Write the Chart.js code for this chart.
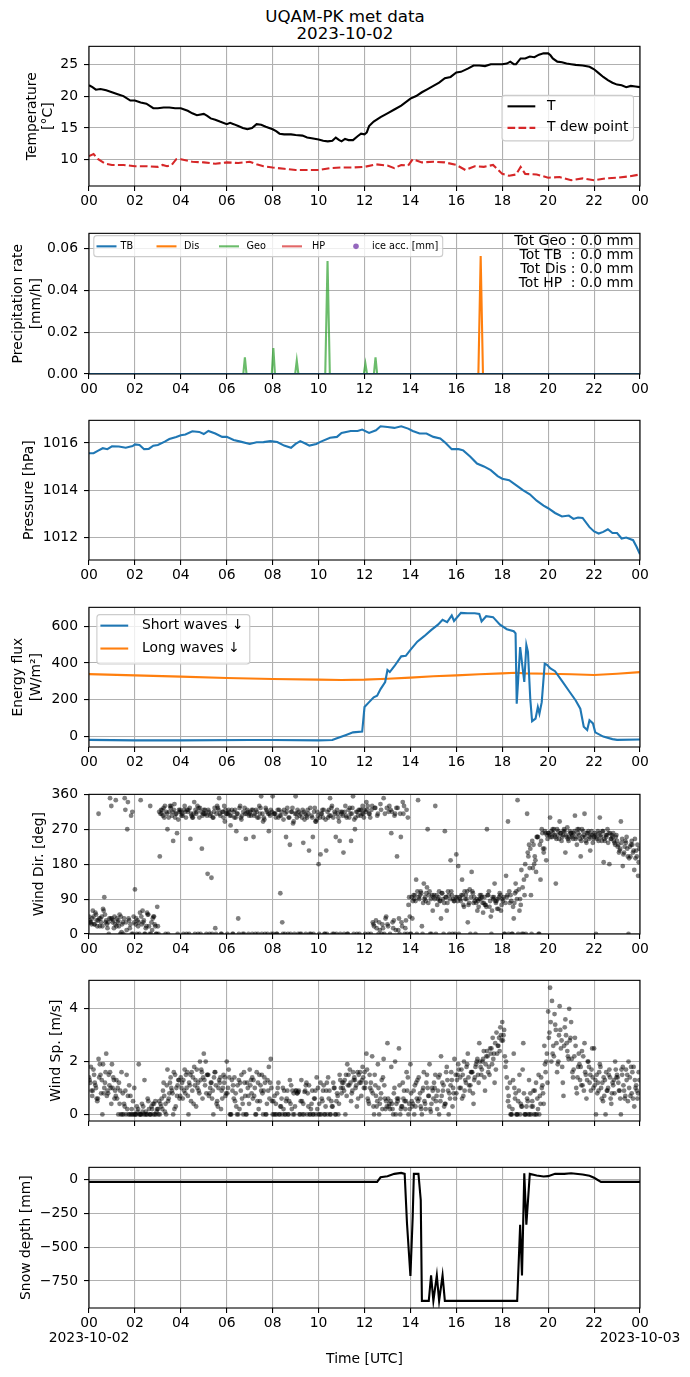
<!DOCTYPE html>
<html><head><meta charset="utf-8">
<script src="https://cdn.jsdelivr.net/npm/chart.js@4.4.1/dist/chart.umd.min.js"></script>
<style>
html,body{margin:0;padding:0;background:#fff;width:690px;height:1377px;overflow:hidden;}
#wrap{position:relative;width:690px;height:1377px;}
canvas{position:absolute;left:0;}
.title{position:absolute;left:0;width:690px;text-align:center;font-family:'DejaVu Sans',sans-serif;font-size:16.7px;line-height:16.6px;color:#000;}
</style></head><body>
<div id="wrap">
<div class="title" style="top:8.4px">UQAM-PK met data<br>2023-10-02</div>
</div>
<script>
// ---------------- DATA ----------------
const hourTicks = [0,2,4,6,8,10,12,14,16,18,20,22,24];
const hourLabels = ['00','02','04','06','08','10','12','14','16','18','20','22','00'];
const dateLabels = ['2023-10-02','2023-10-03'];

const temperature = [[0,21.7],[0.15,21.4],[0.3,21.0],[0.5,21.1],[0.75,20.9],[1,20.6],[1.25,20.3],[1.5,20.0],[1.8,19.3],[2,19.3],[2.25,19.0],[2.5,18.8],[2.8,18.1],[3,18.1],[3.25,18.2],[3.5,18.2],[3.75,18.1],[4,18.1],[4.3,17.7],[4.5,17.3],[4.7,17.0],[5,17.2],[5.15,16.9],[5.3,16.5],[5.5,16.3],[5.7,16.0],[6,15.6],[6.15,15.8],[6.3,15.6],[6.5,15.3],[6.7,15.0],[6.9,14.8],[7.1,15.0],[7.3,15.6],[7.5,15.5],[7.7,15.2],[8,14.8],[8.15,14.5],[8.3,14.1],[8.5,14.0],[8.8,14.0],[9,13.9],[9.3,13.8],[9.5,13.5],[9.7,13.4],[10,13.2],[10.2,13.0],[10.4,12.9],[10.6,13.0],[10.75,13.5],[10.9,13.1],[11,12.9],[11.15,13.3],[11.3,13.1],[11.5,13.1],[11.7,13.7],[11.85,14.1],[12,14.0],[12.1,14.3],[12.2,15.3],[12.4,16.0],[12.7,16.7],[13,17.3],[13.3,17.9],[13.6,18.5],[14,19.6],[14.25,20.0],[14.5,20.6],[14.75,21.1],[15,21.6],[15.25,22.1],[15.5,22.8],[15.75,23.0],[16,23.7],[16.2,23.8],[16.5,24.3],[16.75,24.8],[17,24.8],[17.25,24.7],[17.5,25.0],[17.75,25.0],[18,25.0],[18.2,25.1],[18.35,25.4],[18.5,25.0],[18.6,25.0],[18.8,25.9],[19,25.9],[19.2,26.2],[19.4,26.1],[19.6,26.5],[19.8,26.7],[20,26.7],[20.1,26.4],[20.2,25.9],[20.4,25.4],[20.6,25.3],[20.8,25.1],[21,25.0],[21.2,24.9],[21.5,24.8],[21.8,24.6],[22,24.2],[22.2,23.6],[22.4,23.0],[22.6,22.5],[22.8,22.1],[23,21.8],[23.2,21.7],[23.4,21.4],[23.6,21.6],[23.8,21.5],[24,21.4]];
const dewPoint = [[0,10.6],[0.2,10.9],[0.4,10.1],[0.7,9.4],[1,9.2],[1.5,9.2],[2,9.0],[2.5,9.0],[3,8.9],[3.2,9.2],[3.4,9.0],[3.6,9.2],[3.8,10.1],[4,10.1],[4.5,9.7],[5,9.6],[5.5,9.4],[6,9.6],[6.5,9.5],[7,9.7],[7.3,9.3],[7.6,9.0],[8,8.8],[8.5,8.6],[9,8.4],[9.5,8.4],[10,8.4],[10.5,8.7],[11,8.8],[11.5,8.8],[12,8.9],[12.5,9.3],[13,9.1],[13.3,8.7],[13.6,9.2],[13.9,9.1],[14.1,10.1],[14.5,9.6],[15,9.7],[15.5,9.6],[16,9.2],[16.4,8.4],[16.8,9.0],[17.2,8.9],[17.6,9.2],[17.8,8.5],[18,7.8],[18.3,7.5],[18.6,7.7],[18.8,8.9],[19,7.8],[19.5,7.7],[20,7.2],[20.5,7.3],[21,6.8],[21.5,7.1],[22,6.8],[22.5,7.1],[23,7.2],[23.5,7.4],[24,7.7]];

const precipTB = [[0,0],[24,0]];
const precipDis = [[0,0],[16.96,0],[17.06,0.0564],[17.16,0],[24,0]];
const precipGeo = [[0,0],[6.72,0],[6.79,0.0079],[6.86,0],[7.96,0],[8.03,0.0124],[8.1,0],[8.98,0],[9.05,0.0064],[9.12,0],[10.29,0],[10.39,0.054],[10.49,0],[11.97,0],[12.04,0.0049],[12.11,0],[12.41,0],[12.48,0.0079],[12.55,0],[24,0]];
const precipHP = [[0,0],[24,0]];
const iceAcc = [];
const precipTotals = ['Tot Geo : 0.0 mm','Tot TB  : 0.0 mm','Tot Dis : 0.0 mm','Tot HP  : 0.0 mm'];

const pressure = [[0,1015.57],[0.2,1015.57],[0.4,1015.68],[0.6,1015.78],[0.8,1015.74],[1,1015.86],[1.3,1015.85],[1.6,1015.8],[1.9,1015.87],[2,1015.94],[2.2,1015.92],[2.4,1015.74],[2.6,1015.75],[2.8,1015.89],[3,1015.92],[3.3,1016.06],[3.5,1016.17],[3.8,1016.26],[4,1016.33],[4.2,1016.36],[4.5,1016.5],[4.8,1016.47],[5,1016.38],[5.2,1016.51],[5.5,1016.4],[5.8,1016.26],[6,1016.26],[6.3,1016.13],[6.6,1016.06],[7,1015.96],[7.3,1016.03],[7.6,1016.04],[7.9,1016.08],[8.2,1016.04],[8.5,1015.89],[8.8,1015.8],[9,1015.96],[9.2,1016.08],[9.4,1015.99],[9.6,1015.89],[9.9,1015.96],[10.1,1016.06],[10.5,1016.22],[10.8,1016.26],[11,1016.43],[11.4,1016.51],[11.7,1016.51],[11.9,1016.57],[12.2,1016.43],[12.5,1016.54],[12.7,1016.71],[13,1016.68],[13.3,1016.64],[13.6,1016.71],[13.9,1016.61],[14.1,1016.51],[14.4,1016.4],[14.7,1016.4],[15,1016.26],[15.3,1016.19],[15.5,1016.03],[15.8,1015.74],[16.1,1015.74],[16.3,1015.69],[16.6,1015.43],[16.9,1015.13],[17.2,1015.01],[17.5,1014.85],[17.8,1014.6],[18,1014.49],[18.3,1014.43],[18.6,1014.22],[18.9,1014.01],[19.2,1013.83],[19.5,1013.56],[19.8,1013.35],[20,1013.24],[20.3,1013.04],[20.6,1012.89],[20.9,1012.93],[21.1,1012.79],[21.3,1012.85],[21.5,1012.83],[21.8,1012.44],[22,1012.26],[22.2,1012.17],[22.4,1012.24],[22.6,1012.35],[22.8,1012.19],[23,1012.19],[23.2,1011.96],[23.4,1012.0],[23.7,1011.89],[23.85,1011.61],[24,1011.29]];

const shortWave = [[0,-20],[2,-23],[4,-23],[7,-21],[8,-21],[10,-23],[10.6,-21],[10.8,-11],[11.2,7],[11.5,21],[11.9,25],[12.0,159],[12.2,186],[12.4,212],[12.55,221],[12.7,257],[12.9,296],[13.0,361],[13.1,350],[13.3,382],[13.6,436],[13.8,439],[14,471],[14.3,516],[14.6,546],[14.9,579],[15.2,609],[15.4,636],[15.6,623],[15.8,659],[15.9,629],[16.2,673],[16.5,671],[16.8,671],[17,668],[17.1,627],[17.3,655],[17.6,650],[17.9,609],[18.2,584],[18.5,573],[18.58,561],[18.63,177],[18.78,486],[18.88,380],[18.96,296],[19.05,498],[19.12,460],[19.22,204],[19.3,82],[19.45,96],[19.55,159],[19.62,123],[19.72,186],[19.85,396],[19.95,390],[20.1,370],[20.3,355],[20.6,302],[20.9,248],[21.2,195],[21.4,150],[21.55,52],[21.7,34],[21.8,87],[21.95,70],[22.05,21],[22.4,-2],[22.8,-16],[23,-20],[24,-18]];
const longWave = [[0,339],[2,332],[4,325],[6,318],[8,312],[10,309],[11,307],[12,309],[13,314],[14,320],[15,327],[16,332],[17,338],[18,343],[18.6,346],[19,343],[20,341],[21,338],[22,334],[23,341],[24,350]];

// wind direction: three interleaved 5-min sample sets (A, B, C), one row per hour
const windDirA = [
45,30,60,25,35,310,40,20,95,35,30,350,
40,15,345,30,50,5,0,320,270,35,305,0,
115,0,30,345,60,0,20,50,330,10,45,0,
20,200,310,325,0,270,315,330,240,300,260,320,
315,305,330,0,320,245,300,340,310,0,325,220,
320,310,155,0,145,300,15,330,350,0,315,290,
310,320,280,0,300,265,40,330,305,0,245,315,
310,320,250,0,300,330,355,290,0,315,265,320,
355,310,0,300,105,30,320,250,0,230,315,290,
355,320,305,0,235,310,300,215,0,250,325,295,
180,205,320,0,215,300,350,330,0,250,310,240,
310,210,330,0,300,240,355,270,0,320,305,330,
320,340,0,300,330,20,35,310,10,0,350,40,
25,330,260,15,310,200,40,250,340,0,320,75,
0,40,90,140,345,100,20,130,85,270,110,0,
95,330,75,110,40,90,265,60,100,190,0,85,
205,175,90,140,70,100,30,115,160,80,0,60,
90,100,55,75,270,110,45,95,130,85,65,100,
90,0,150,290,80,0,40,130,345,60,165,0,
180,310,230,100,170,200,250,0,140,260,220,190,
260,300,250,270,130,255,290,240,265,210,275,250,
260,245,305,230,270,200,250,310,235,265,215,255,
250,0,265,300,240,185,255,270,180,245,260,230,
240,210,290,175,225,250,0,200,230,165,215,150];
const windDirB = [
30,40,25,50,35,20,45,60,30,15,40,330,
35,25,40,20,45,30,350,10,40,25,315,30,
40,20,55,25,35,15,50,0,30,45,20,70,
315,320,305,330,310,300,325,315,335,310,295,320,
310,320,300,315,325,305,310,320,330,300,315,310,
320,305,315,310,300,325,310,320,305,315,330,310,
310,305,320,315,300,310,325,295,315,310,320,305,
305,320,310,315,300,325,310,295,320,310,305,315,
310,300,320,305,315,295,310,325,300,315,285,310,
300,315,310,320,295,305,310,325,300,315,290,305,
300,310,320,295,315,305,325,300,310,320,290,315,
305,315,300,320,310,325,295,315,305,320,310,300,
315,330,310,320,25,325,305,30,320,15,310,325,
315,320,30,305,325,10,310,20,330,35,300,45,
95,100,85,110,90,105,80,95,120,100,90,60,
90,100,95,85,105,80,95,110,90,100,85,95,
85,95,100,75,90,110,80,95,105,85,90,70,
90,80,95,70,100,85,60,95,80,90,105,75,
95,80,100,110,85,70,105,90,115,75,120,100,
150,200,220,240,180,160,250,230,270,210,260,245,
255,265,260,250,270,245,260,255,265,250,240,260,
255,265,250,260,245,270,255,240,260,250,265,245,
255,245,260,250,265,240,255,260,245,250,235,255,
230,220,245,210,235,200,225,240,215,195,230,220];
const windDirC = [
35,25,45,55,20,40,30,65,50,25,0,40,
30,45,20,35,0,25,40,30,340,15,0,45,
25,35,0,45,30,0,55,20,0,40,25,0,
0,310,320,300,315,0,330,305,320,310,0,315,
305,0,315,320,0,310,300,0,315,325,0,305,
310,0,320,305,0,315,0,325,310,0,300,320,
0,315,305,0,320,310,0,300,0,325,310,0,
315,0,305,320,0,310,0,300,325,0,310,0,
0,310,0,320,305,0,0,315,300,0,325,0,
310,0,0,300,315,0,320,0,305,0,290,315,
0,310,300,0,0,320,305,0,315,0,300,0,
315,0,305,0,325,310,0,300,315,0,320,310,
0,320,310,0,30,325,15,0,335,25,0,45,
20,0,315,35,10,325,0,30,310,15,0,95,
0,85,100,0,95,110,0,90,105,80,0,100,
100,0,90,85,105,0,95,80,0,110,90,0,
95,0,85,100,110,90,75,0,110,95,80,85,
100,95,80,75,100,70,0,90,85,65,95,60,
85,0,95,0,100,0,80,110,0,90,0,140,
0,210,170,0,230,190,250,0,240,220,265,255,
260,250,270,255,245,265,260,250,270,255,245,265,
250,260,245,270,255,240,265,250,260,245,255,235,
260,250,240,255,265,245,250,235,260,255,240,250,
225,215,235,205,240,220,195,230,210,245,200,185];

// wind speed, same sampling
const windSpA = [
1.4,1.8,0.9,1.2,0.6,2.1,1.5,0,1.0,2.3,0.8,1.6,
1.9,1.3,0.7,1.0,0.4,1.6,0,0.9,0.2,1.1,0,0.5,
0,0.3,1.9,0,0.1,1.3,0,0.5,0,0.2,0.4,0,
0.2,0,0.6,1.2,0.4,1.7,0.8,1.0,0,1.5,0.7,1.3,
1.4,0.6,1.7,1.0,0,1.5,0.9,1.8,0.3,1.2,2.0,1.6,
2.3,2.0,1.5,0.8,1.2,0,1.6,0.5,1.3,0.2,1.0,1.4,
2.0,1.7,0,0.9,1.4,0.3,0,1.2,0.6,1.6,0,1.0,
1.7,0.8,1.3,0,0.5,1.5,0.9,0,1.2,0.4,1.8,2.1,
0,0.7,0,1.2,0.3,0,0.9,0.5,0,1.3,0.2,0.8,
0.9,0.8,0,1.3,0.4,0.9,0,1.1,0.2,0,0.6,1.4,
0,1.2,0.5,0,0.9,1.4,0,0.3,1.0,0,0.7,1.5,
0.8,1.2,0,1.9,1.1,0.5,1.6,1.3,0.3,1.5,1.2,1.8,
1.6,2.3,0.5,1.0,2.2,0,0.7,1.9,0.4,1.3,2.1,0.2,
2.7,0.4,1.8,0,2.0,0.6,2.5,0.2,1.2,0.5,1.6,0,
1.9,0.3,0,1.2,0.5,0.8,0,1.6,0.2,1.0,1.9,0.4,
0.6,1.5,0.2,0,2.2,0.9,0.4,1.8,0,1.1,0.3,2.1,
0.8,1.9,1.4,0.6,2.0,1.2,2.3,0.9,1.6,0.4,1.8,2.1,
2.7,1.5,2.1,0.9,2.4,1.8,2.3,2.9,1.2,3.1,2.6,3.3,
3.5,3.2,2.0,0.5,1.2,0,2.3,0.8,0,1.5,0.3,2.7,
0,0.6,1.3,0,0.3,0.9,0,1.5,0.4,1.1,2.6,2.0,
3.9,4.8,4.3,2.2,3.2,1.9,4.1,2.8,0.7,3.6,2.4,4.0,
3.5,1.4,2.9,0.8,2.3,1.8,1.1,2.7,0.6,2.0,1.5,2.5,
2.5,0,1.2,1.9,0.6,1.4,0,0.9,1.7,0.4,1.1,2.0,
1.5,0.9,0,1.8,0.6,1.3,2.0,0.7,1.6,0.3,1.1,0.8];
const windSpB = [
1.2,0.7,1.5,1.0,0.6,1.9,1.3,0.8,1.6,0.9,1.1,0.4,
1.4,0.9,0.6,1.2,0,0.8,0.3,1.5,0,0.7,0,1.0,
0,0.2,0,0.4,0,0.1,0.6,0,0.3,0,0.5,0.2,
0.5,0.3,0.9,0.1,1.1,0.6,1.4,0.8,0.2,1.0,1.3,0.7,
1.2,0.9,1.5,0.7,1.1,1.6,0.4,1.3,1.0,0.8,1.7,1.4,
1.1,1.5,0.7,1.2,0.9,1.6,0.4,1.0,1.4,0.6,1.2,0.8,
1.0,0,1.3,0.6,0.8,1.1,0.2,1.5,0,0.7,1.2,0.4,
1.3,0.6,1.0,1.6,0.2,1.1,0.8,1.4,0,0.9,1.2,0.5,
0,0.4,1.0,0,0.6,0.2,0,0.9,0.5,1.1,0,0.3,
0.8,0.9,0.5,0,0.85,1.2,0.3,0,0.9,0.6,0,1.0,
0,0.6,1.1,0.3,0,0.9,0.5,1.2,0,0.8,0.4,1.0,
1.0,1.3,0.7,1.5,1.2,0.9,1.4,1.1,0.6,1.6,1.3,1.0,
1.2,0.6,1.5,0.9,0.3,1.1,0.5,0,0.8,1.4,0.6,0.3,
0.3,0.5,0.2,1.0,0.4,0.6,0,0.3,0.9,0.5,1.4,0.2,
0.5,0.9,0.3,1.3,0.6,0.2,1.0,0.4,1.5,0.7,0.1,0.9,
1.0,0.7,1.4,0.5,1.2,0.3,1.6,0.9,0.6,1.3,0.8,1.5,
1.5,1.0,1.7,0.7,1.3,1.9,1.1,1.6,0.8,1.4,2.0,1.2,
1.8,2.0,1.4,2.2,1.6,2.5,1.9,2.3,1.7,2.6,2.4,2.8,
3.0,1.8,1.0,0.3,0,1.3,0.6,0,0.9,0.4,1.7,0,
0.3,0,0.8,0.5,0,1.2,0.2,0.7,1.0,0.4,1.6,1.2,
3.1,2.0,2.6,3.4,1.6,3.0,2.5,1.2,3.3,2.7,2.1,2.9,
1.6,2.2,1.0,1.8,1.3,2.4,0.9,1.5,2.0,1.2,1.7,1.0,
1.3,0.8,1.6,1.0,0.5,1.3,0.9,1.5,0.6,1.2,0.8,1.4,
1.2,0.6,1.5,0.9,1.7,0.5,1.4,0.8,1.8,1.0,0.6,1.3];
const windSpC = [
1.3,0.9,1.7,1.1,0.5,1.4,0.8,1.9,1.2,0.7,1.5,1.0,
1.0,0.6,1.3,0,0.9,0,0.4,0,0.7,0,0.2,0,
0,0.1,0,0,0.3,0,0,0.2,0,0.4,0,0.1,
0,0.4,0.2,0.7,0,0.5,1.2,0.9,1.6,0.3,1.1,0.6,
1.0,1.3,0.8,1.6,1.2,0.5,1.4,1.1,1.7,0.9,1.3,0.6,
1.3,0.8,1.5,1.0,0.6,1.4,1.1,0.3,1.2,0.9,1.5,0.7,
0.8,1.4,0,1.1,0.5,0,1.3,0.9,0.4,1.2,0,0.7,
1.1,1.4,0.7,0,1.2,0.5,1.5,0.9,0,1.3,0.6,1.0,
0.5,0,0.8,0,0.3,1.0,0,0.6,0,0.4,0.9,0,
0.9,0.85,0,0.5,0,1.1,0.8,0,0.4,0,0.9,0.2,
0.4,0,0.9,0,1.2,0.6,0,0.3,1.0,0.5,0,1.3,
1.2,0.9,1.5,1.1,1.7,0.8,1.3,1.0,1.6,1.2,0.7,1.4,
1.0,1.7,0.4,1.2,0.8,1.5,0.3,1.0,0.6,0.2,1.1,0.5,
0.6,0.2,0.4,0.8,0,0.5,1.1,0.3,0.6,0.2,0.9,0.4,
0.8,0.4,1.1,0.6,1.4,0.3,0.9,0.5,1.2,0.7,0.2,1.0,
1.2,0.5,0.9,1.5,0.7,1.1,0.4,1.3,0.8,1.6,1.0,0.6,
1.3,1.7,1.0,1.5,0.9,1.8,1.4,1.1,1.6,1.3,1.9,1.5,
2.0,1.7,2.4,1.9,2.2,1.5,2.5,2.1,2.7,2.3,2.9,3.0,
2.8,2.2,1.4,0.7,0,0.2,1.0,0,0.5,0,0.3,0.8,
0,0.5,0,0.3,0.9,0,0.6,0,1.4,0.8,1.9,2.3,
2.9,3.5,2.3,3.8,2.7,2.0,3.2,1.8,2.6,3.0,2.2,2.8,
2.1,1.7,2.6,1.4,1.9,1.1,2.2,1.6,1.3,1.8,0.9,1.4,
1.1,1.5,0.9,1.8,1.2,0.7,1.6,1.0,1.4,0.8,1.3,1.7,
1.4,0.9,1.7,1.1,0.7,1.5,1.0,1.8,0.6,1.3,0.9,1.6];

const snowDepth = [[0,-15],[12.55,-15],[12.7,19],[13,27],[13.3,44],[13.6,51],[13.75,44],[13.85,-320],[14.0,-714],[14.1,-272],[14.15,44],[14.35,44],[14.45,-150],[14.5,-898],[14.8,-898],[14.9,-709],[15.0,-898],[15.15,-709],[15.25,-898],[15.4,-709],[15.5,-898],[18.65,-898],[18.78,-333],[18.86,-709],[18.96,49],[19.05,-333],[19.2,44],[19.5,32],[19.8,25],[20,27],[20.3,44],[20.7,44],[21,49],[21.5,39],[21.8,30],[22,15],[22.3,-15],[24,-15]];

// ---------------- RENDER ----------------
Chart.defaults.font.family = "'DejaVu Sans', sans-serif";
Chart.defaults.font.size = 13.9;
Chart.defaults.color = '#000';

const wrap = document.getElementById('wrap');
const PANEL = [[44,186],[231,374],[418,560],[605,747],[792,934],[978,1121],[1165,1308]];
const PAD_TOP = 12;

const pairs = a => a.map(p => ({x:p[0], y:p[1]}));
const sampled = (vals, offMin) => vals.map((v,i) => ({x:(i*5 + offMin)/60, y:v}));

const framePlugin = {id:'frame', afterDatasetsDraw(chart){
  const {ctx, chartArea:a} = chart;
  ctx.save(); ctx.strokeStyle='#000'; ctx.lineWidth=1.1;
  ctx.strokeRect(a.left, a.top, a.right-a.left, a.bottom-a.top); ctx.restore();
}};

function rrect(ctx,x,y,w,h,r){ctx.beginPath();ctx.moveTo(x+r,y);ctx.lineTo(x+w-r,y);ctx.quadraticCurveTo(x+w,y,x+w,y+r);ctx.lineTo(x+w,y+h-r);ctx.quadraticCurveTo(x+w,y+h,x+w-r,y+h);ctx.lineTo(x+r,y+h);ctx.quadraticCurveTo(x,y+h,x,y+h-r);ctx.lineTo(x,y+r);ctx.quadraticCurveTo(x,y,x+r,y);ctx.closePath();}

const extrasPlugin = {id:'extras', afterDraw(chart){
  const ex = chart.canvas.$extra; if(!ex) return;
  const ctx = chart.ctx, dy = chart.chartArea.top - ex.panelTop;
  ctx.save();
  if (ex.legend) {
    const L = ex.legend;
    rrect(ctx, L.box[0], L.box[1]+dy, L.box[2]-L.box[0], L.box[3]-L.box[1], 3);
    ctx.fillStyle='rgba(255,255,255,0.8)'; ctx.fill();
    ctx.strokeStyle='#cccccc'; ctx.lineWidth=1.1; ctx.stroke();
    ctx.font = L.size + "px 'DejaVu Sans'";
    ctx.textBaseline='middle'; ctx.textAlign='left';
    L.items.forEach(it => {
      const ds = chart.data.datasets[it.ds];
      const y = it.y + dy;
      if (ds.showLine === false) {
        ctx.fillStyle = ds.pointBackgroundColor;
        ctx.beginPath(); ctx.arc((it.h0+it.h1)/2, y, 2.8, 0, Math.PI*2); ctx.fill();
      } else {
        ctx.strokeStyle = ds.borderColor; ctx.lineWidth = ds.borderWidth;
        ctx.setLineDash(ds.borderDash || []);
        ctx.beginPath(); ctx.moveTo(it.h0, y); ctx.lineTo(it.h1, y); ctx.stroke();
        ctx.setLineDash([]);
      }
      ctx.fillStyle = '#000';
      ctx.fillText(ds.label, it.tx, y);
    });
  }
  if (ex.text) {
    const t = ex.text;
    ctx.font = t.size + "px 'DejaVu Sans'";
    ctx.textAlign='right'; ctx.textBaseline='middle'; ctx.fillStyle='#000';
    t.lines.forEach((s,k) => ctx.fillText(s, t.x, t.ys[k]+dy));
  }
  ctx.restore();
}};

function makePanel(i, cfg) {
  const [T,B] = PANEL[i];
  const last = i === 6;
  const axisH = last ? (1377 - B) : 30;
  const H = B - T + PAD_TOP + axisH;
  const c = document.createElement('canvas');
  c.width = 690; c.height = H;
  c.style.width = '690px'; c.style.height = H + 'px';
  c.style.top = (T - PAD_TOP) + 'px';
  c.$extra = Object.assign({panelTop:T}, cfg.extra || {});
  wrap.appendChild(c);
  const grid = {color:'#b0b0b0', lineWidth:1.1, tickLength:5, tickColor:'#000', tickWidth:1.1, drawTicks:true};
  return new Chart(c, {
    type:'line',
    data:{datasets:cfg.datasets},
    options:{
      responsive:false, animation:false, events:[], devicePixelRatio:1,
      layout:{padding:{left:0,right:50,top:PAD_TOP,bottom:0}},
      plugins:{legend:{display:false}, tooltip:{enabled:false}},
      elements:{point:{radius:0}, line:{tension:0}},
      scales:{
        x:{type:'linear', min:0, max:24, bounds:'data',
          afterFit: s => { s.height = axisH; },
          afterBuildTicks: s => { s.ticks = hourTicks.map(v => ({value:v})); },
          ticks:{autoSkip:false, maxRotation:0, minRotation:0,
            padding: last ? 2.4 : 2,
            font: last ? {size:13.9, lineHeight:1.1} : {size:13.9},
            callback: (v) => {
              const k = hourTicks.indexOf(v);
              if (i === 5) return '';
              if (last && k === 0) return [hourLabels[k], dateLabels[0]];
              if (last && k === hourTicks.length-1) return [hourLabels[k], dateLabels[1]];
              return hourLabels[k];
            }},
          grid:grid, border:{display:false},
          title: last ? {display:true, text:'Time [UTC]', padding:{top:0,bottom:9.6}, font:{size:13.9}} : {display:false}
        },
        y:{type:'linear', min:cfg.ymin, max:cfg.ymax, bounds:'data',
          afterFit: s => { s.width = 89; },
          afterBuildTicks: s => { s.ticks = cfg.yTicks.map(v => ({value:v})); },
          ticks:{autoSkip:false, padding:6, callback: v => cfg.yLabels[cfg.yTicks.indexOf(v)]},
          grid:grid, border:{display:false},
          title:{display:true, text:cfg.yTitle, padding:{top:cfg.yTitleX-8, bottom:0}, font:{size:13.9, lineHeight:cfg.yLH || 1.15}}
        }
      }
    },
    plugins:[framePlugin, extrasPlugin]
  });
}

const lineDs = (label, data, color, extra) => Object.assign({label, data:pairs(data), borderColor:color, backgroundColor:color, borderWidth:2.1, pointRadius:0, fill:false}, extra||{});
const dotDs = (label, data) => ({label, data, showLine:false, pointRadius:2.4, pointBackgroundColor:'rgba(0,0,0,0.5)', pointBorderColor:'rgba(0,0,0,0)', pointBorderWidth:0});

// Panel 1: temperature
makePanel(0, {
  datasets:[lineDs('T', temperature, '#000000'), lineDs('T dew point', dewPoint, '#d62728', {borderDash:[7.7,3.3]})],
  ymin:5.9, ymax:27.8, yTicks:[10,15,20,25], yLabels:['10','15','20','25'],
  yTitle:['Temperature','[°C]'], yTitleX:31.7, yLH:1.2,
  extra:{legend:{box:[502,93,633.5,138.5], size:13.9, items:[
    {ds:0, h0:507.5, h1:535.3, tx:547, y:104},
    {ds:1, h0:507.5, h1:535.3, tx:547, y:125.5}]}}
});

// Panel 2: precipitation
makePanel(1, {
  datasets:[
    lineDs('TB', precipTB, '#1f77b4', {borderWidth:2.1}),
    lineDs('Dis', precipDis, '#ff7f0e', {borderWidth:2.1}),
    lineDs('Geo', precipGeo, 'rgba(44,160,44,0.7)', {borderWidth:2.1}),
    lineDs('HP', precipHP, 'rgba(214,39,40,0.7)', {borderWidth:2.1}),
    {label:'ice acc. [mm]', data:iceAcc, showLine:false, pointRadius:3, pointBackgroundColor:'#9467bd', pointBorderWidth:0}
  ],
  ymin:0, ymax:0.0672, yTicks:[0,0.02,0.04,0.06], yLabels:['0.00','0.02','0.04','0.06'],
  yTitle:['Precipitation rate','[mm/h]'], yTitleX:17.6, yLH:1.28,
  extra:{
    legend:{box:[93.8,233.3,442.7,254.3], size:9.7, items:[
      {ds:0, h0:96.5, h1:116.5, tx:120.5, y:244},
      {ds:1, h0:156.5, h1:176.5, tx:184, y:244},
      {ds:2, h0:219, h1:239, tx:246.5, y:244},
      {ds:3, h0:282, h1:302, tx:312, y:244},
      {ds:4, h0:346, h1:366, tx:372, y:244}]},
    text:{x:633.5, size:13.9, ys:[239.3,253.3,267.3,281.3], lines:precipTotals}
  }
});

// Panel 3: pressure
makePanel(2, {
  datasets:[lineDs('P', pressure, '#1f77b4')],
  ymin:1011.05, ymax:1016.96, yTicks:[1012,1014,1016], yLabels:['1012','1014','1016'],
  yTitle:'Pressure [hPa]', yTitleX:29
});

// Panel 4: radiation
makePanel(3, {
  datasets:[lineDs('Short waves ↓', shortWave, '#1f77b4'), lineDs('Long waves ↓', longWave, '#ff7f0e')],
  ymin:-59, ymax:703.5, yTicks:[0,200,400,600], yLabels:['0','200','400','600'],
  yTitle:['Energy flux','[W/m²]'], yTitleX:16.7, yLH:1.35,
  extra:{legend:{box:[96.9,612.3,249.8,661.7], size:13.9, items:[
    {ds:0, h0:100.4, h1:128.2, tx:141.9, y:623.3},
    {ds:1, h0:100.4, h1:128.2, tx:141.9, y:646.2}]}}
});

// Panel 5: wind direction
makePanel(4, {
  datasets:[dotDs('dir A', sampled(windDirA,0)), dotDs('dir C', sampled(windDirC,1.67)), dotDs('dir B', sampled(windDirB,3.33))],
  ymin:0, ymax:360, yTicks:[0,90,180,270,360], yLabels:['0','90','180','270','360'],
  yTitle:'Wind Dir. [deg]', yTitleX:39.6
});

// Panel 6: wind speed
makePanel(5, {
  datasets:[dotDs('sp A', sampled(windSpA,0)), dotDs('sp C', sampled(windSpC,1.67)), dotDs('sp B', sampled(windSpB,3.33))],
  ymin:-0.25, ymax:5.08, yTicks:[0,2,4], yLabels:['0','2','4'],
  yTitle:'Wind Sp. [m/s]', yTitleX:56.4
});

// Panel 7: snow depth
makePanel(6, {
  datasets:[lineDs('Snow', snowDepth, '#000000')],
  ymin:-951, ymax:92.5, yTicks:[-750,-500,-250,0], yLabels:['\u2212750','\u2212500','\u2212250','0'],
  yTitle:'Snow depth [mm]', yTitleX:26.4
});
</script>
</body></html>
